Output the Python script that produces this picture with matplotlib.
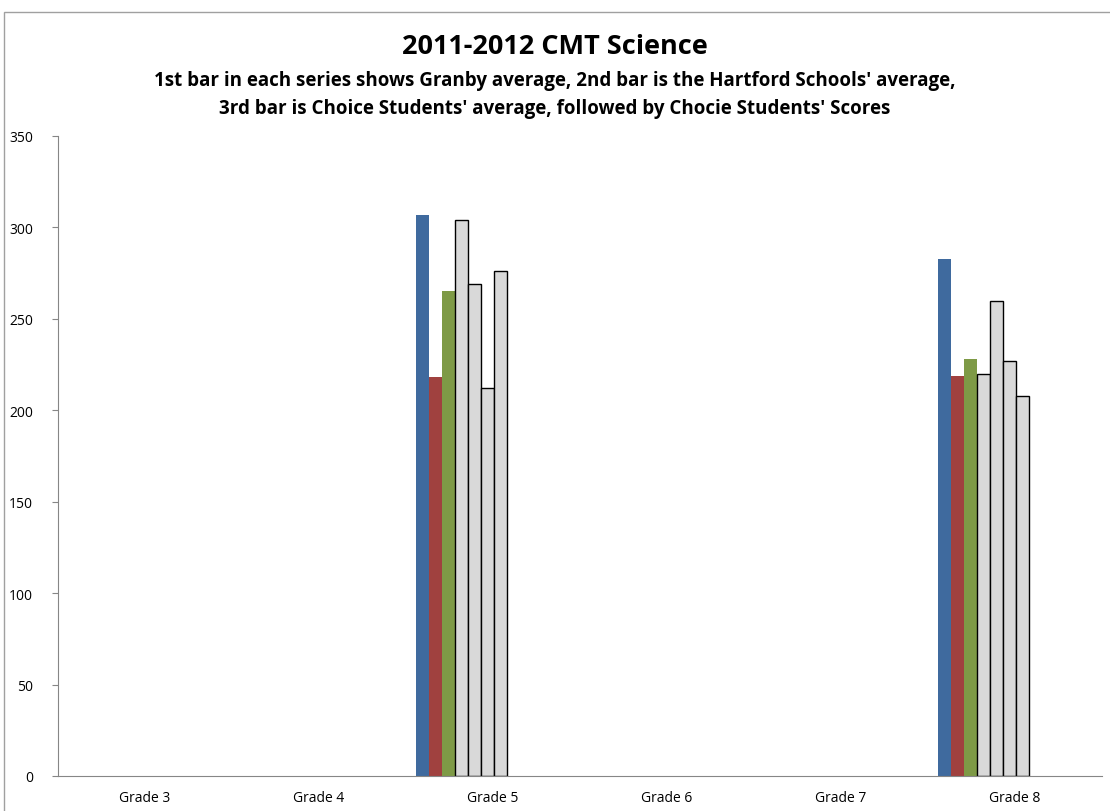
import matplotlib.pyplot as plt
import matplotlib.patches as mpatches
import numpy as np

plt.rcParams['font.family'] = ['Open Sans', 'DejaVu Sans']

grades = ['Grade 3', 'Grade 4', 'Grade 5', 'Grade 6', 'Grade 7', 'Grade 8']
nan = np.nan
# one list per bar slot (Granby avg, Hartford avg, Choice avg, then student scores)
granby_avg = [nan, nan, 307, nan, nan, 283]
hartford_avg = [nan, nan, 218, nan, nan, 219]
choice_avg = [nan, nan, 265, nan, nan, 228]
student_1 = [nan, nan, 304, nan, nan, 220]
student_2 = [nan, nan, 269, nan, nan, 260]
student_3 = [nan, nan, 212, nan, nan, 227]
student_4 = [nan, nan, 276, nan, nan, 208]

series = [granby_avg, hartford_avg, choice_avg, student_1, student_2, student_3, student_4]
colors = ['#3F6A9E', '#A0413F', '#7E9A46'] + ['#D9D9D9'] * 4
edges = ['none', 'none', 'none'] + ['black'] * 4

fig = plt.figure(figsize=(11.1, 8.12), dpi=100)
ax = fig.add_axes([58 / 1110, 35 / 812, 1044 / 1110, 640 / 812])

x = np.arange(len(grades))
w = 0.075
start = -0.445
for i, vals in enumerate(series):
    ax.bar(x + start + i * w, vals, width=w, align='edge', color=colors[i],
           edgecolor=edges[i], linewidth=1.0 if edges[i] != 'none' else 0)

ax.set_xlim(-0.5, len(grades) - 0.5)
ax.set_ylim(0, 350)
ax.set_yticks(range(0, 351, 50))
ax.set_xticks(x)
ax.set_xticklabels(grades)
ax.tick_params(axis='x', length=0, labelsize=10, pad=10)
ax.tick_params(axis='y', length=4, direction='out', labelsize=10, color='#868686', pad=14)
for s in ['top', 'right']:
    ax.spines[s].set_visible(False)
for s in ['left', 'bottom']:
    ax.spines[s].set_color('#868686')

fig.text(0.5, 1 - 47 / 812, '2011-2012 CMT Science', ha='center', va='center',
         fontsize=19.5, fontweight='bold')
fig.text(0.5, 1 - 81 / 812, "1st bar in each series shows Granby average, 2nd bar is the Hartford Schools' average,",
         ha='center', va='center', fontsize=13.5, fontweight='bold')
fig.text(0.5, 1 - 109 / 812, "3rd bar is Choice Students' average, followed by Chocie Students' Scores",
         ha='center', va='center', fontsize=13.5, fontweight='bold')

# chart area border (only left and top visible in the crop)
fig.add_artist(mpatches.Rectangle((4 / 1110, -0.05), 1.2, 1 - 13 / 812 + 0.05,
                                  transform=fig.transFigure, fill=False,
                                  edgecolor='#A0A0A0', linewidth=1))

plt.savefig('out.png')
